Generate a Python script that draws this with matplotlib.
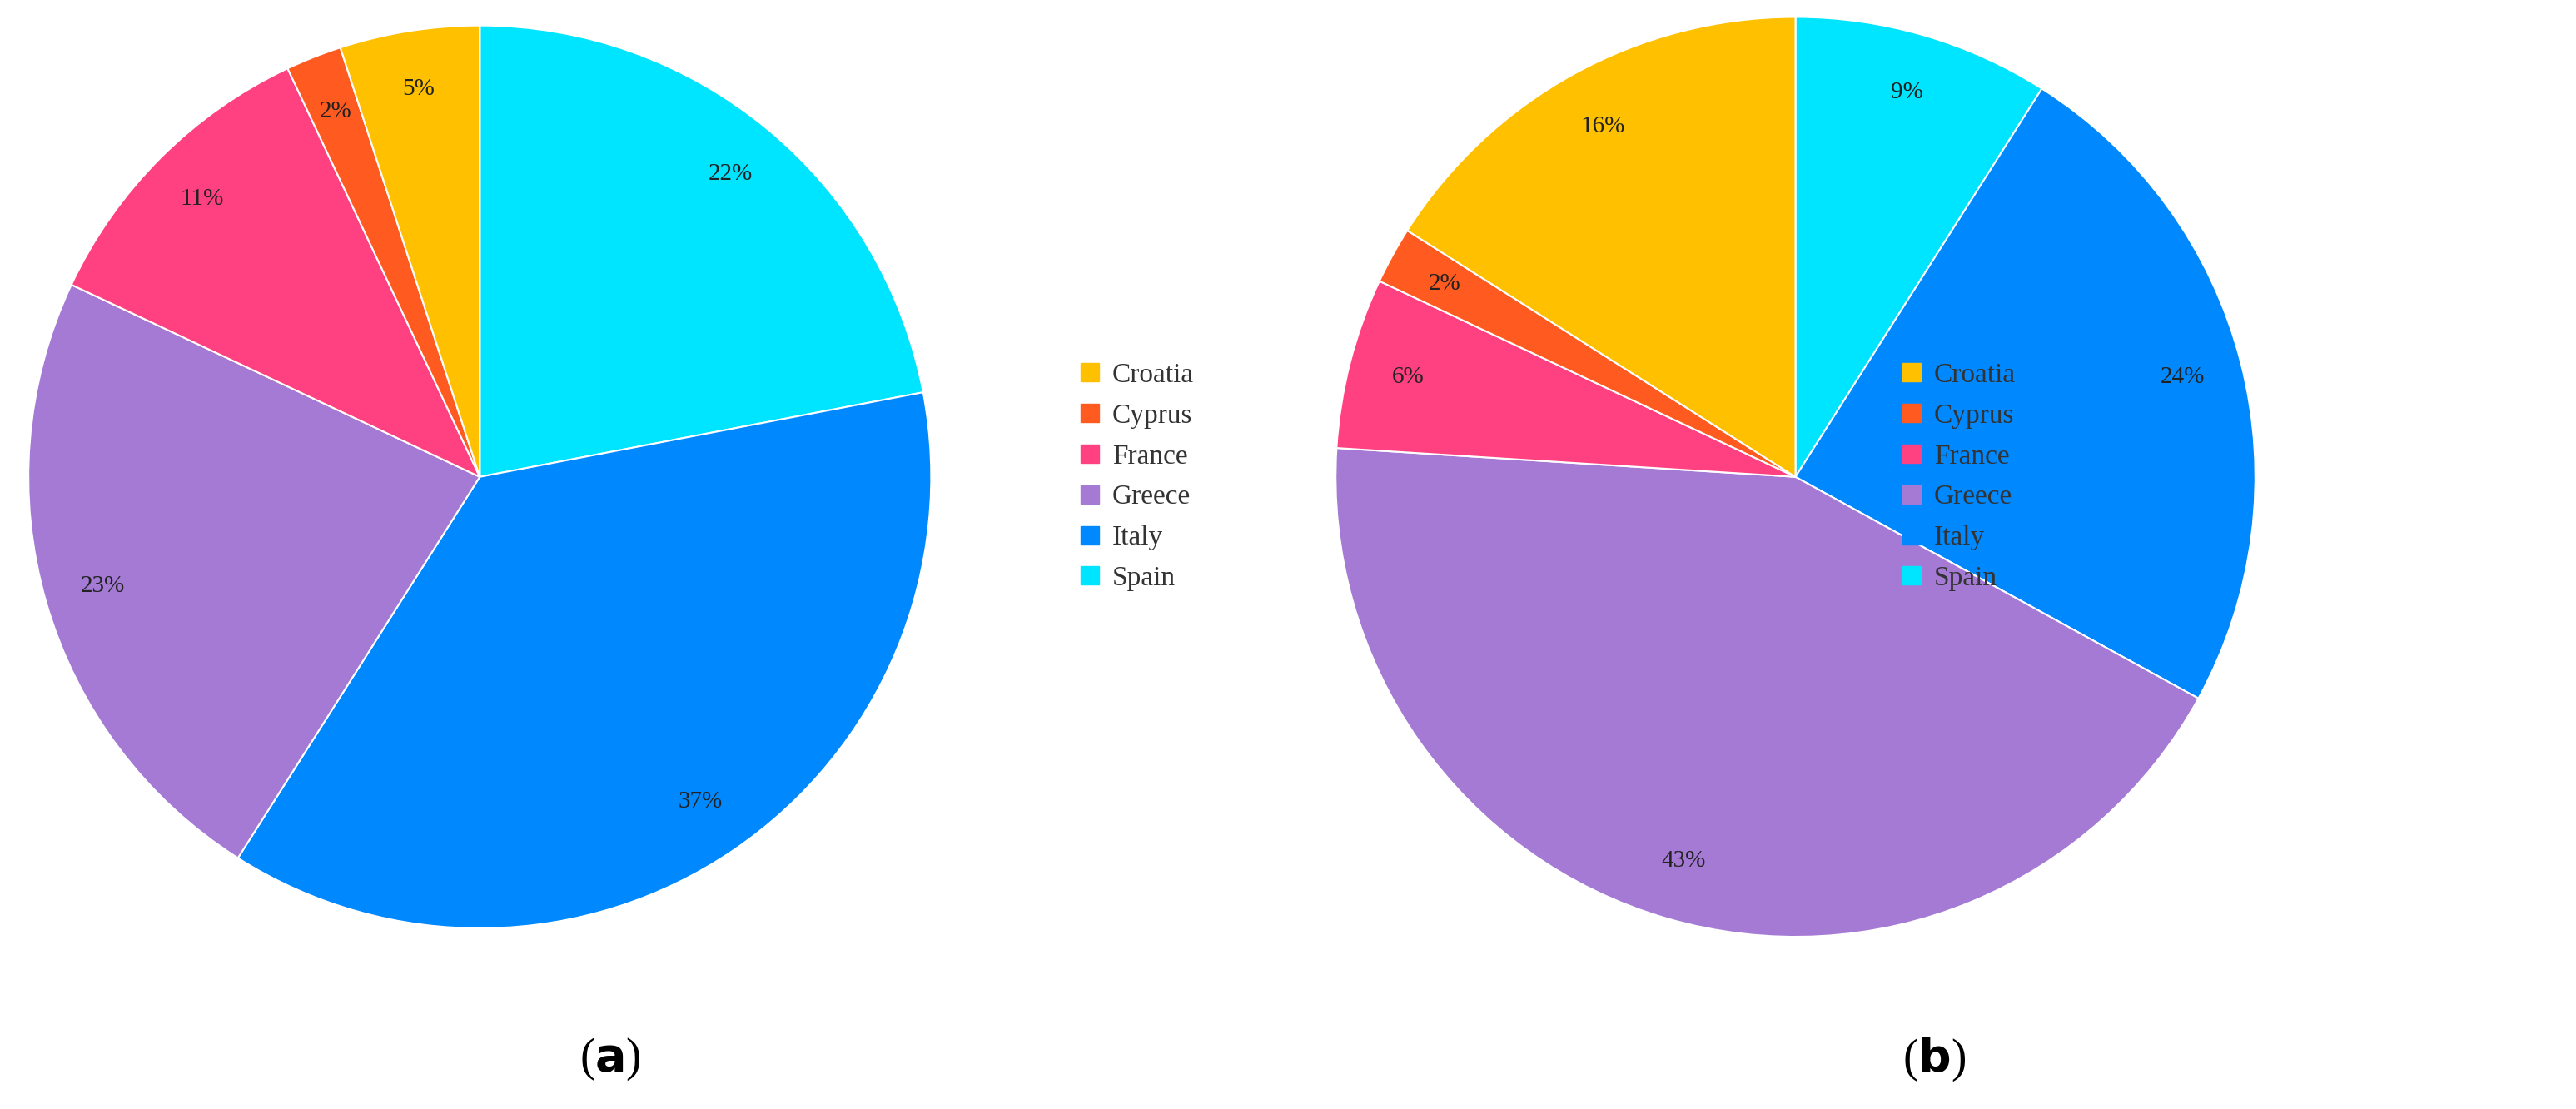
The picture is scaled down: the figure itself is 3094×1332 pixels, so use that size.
import matplotlib.pyplot as plt

countries = ["Spain", "Italy", "Greece", "France", "Cyprus", "Croatia"]
share_a = [22, 37, 23, 11, 2, 5]
share_b = [9, 24, 43, 6, 2, 16]
legend_order = ["Croatia", "Cyprus", "France", "Greece", "Italy", "Spain"]

colors = {
    "Croatia": "#FFC000",
    "Cyprus": "#FF5A1F",
    "France": "#FF4081",
    "Greece": "#A47AD4",
    "Italy": "#0088FF",
    "Spain": "#00E5FF",
}

plt.rcParams["font.family"] = ["Liberation Serif", "DejaVu Serif"]
fig = plt.figure(figsize=(30.94, 13.32), dpi=100)


def draw_pie(rect, values, legend_x, tag, tag_x):
    ax = fig.add_axes(rect)
    ax.pie(
        values,
        colors=[colors[c] for c in countries],
        startangle=90,
        counterclock=False,
        autopct="%d%%",
        pctdistance=0.87,
        wedgeprops=dict(edgecolor="white", linewidth=1.5),
        textprops=dict(fontsize=21, color="#222222"),
    )
    ax.set_xlim(-1, 1)
    ax.set_ylim(-1, 1)
    ax.set_aspect("equal")
    handles = [
        plt.Line2D([], [], marker="s", linestyle="", markersize=16,
                   color=colors[c]) for c in legend_order
    ]
    fig.legend(handles, legend_order, loc="center left",
               bbox_to_anchor=(legend_x, 0.57), frameon=False,
               fontsize=24, handletextpad=0.3, labelspacing=0.55,
               handlelength=1.0, labelcolor="#333333")
    fig.text(tag_x, 0.045, "(" + r"$\mathbf{" + tag + "}$" + ")",
             fontsize=40, ha="center", va="center")


draw_pie([0.011, 0.163, 0.3505, 0.814], share_a, 0.408, "a", 0.237)
draw_pie([0.5185, 0.155, 0.357, 0.83], share_b, 0.727, "b", 0.751)

fig.savefig("out.png", dpi=100)
